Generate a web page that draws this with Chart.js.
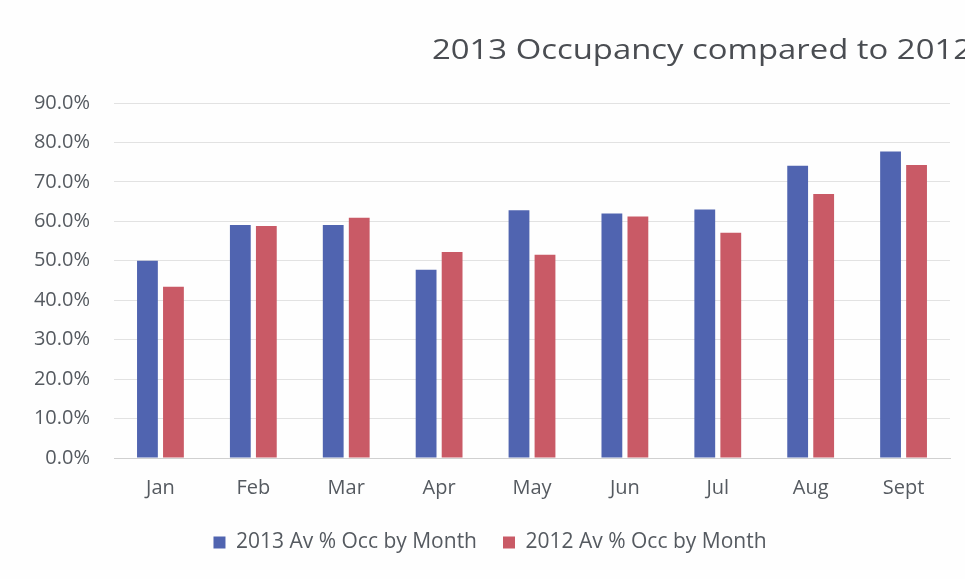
<!DOCTYPE html>
<html>
<head>
<meta charset="utf-8">
<script src="https://cdn.jsdelivr.net/npm/chart.js@4/dist/chart.umd.min.js"></script>
<style>
html,body{margin:0;padding:0;background:#fefefe;}
#wrap{position:relative;width:965px;height:579px;overflow:hidden;}
</style>
</head>
<body>
<div id="wrap"><canvas id="c" width="965" height="579"></canvas></div>
<script>
const chartTitle = "2013 Occupancy compared to 2012";
const categories = ["Jan","Feb","Mar","Apr","May","Jun","Jul","Aug","Sept"];
const series2013Label = "2013 Av % Occ by Month";
const series2012Label = "2012 Av % Occ by Month";
const occ2013 = [50.0, 59.1, 59.1, 47.7, 62.8, 62.0, 63.0, 74.1, 77.7];
const occ2012 = [43.4, 58.8, 60.9, 52.2, 51.5, 61.2, 57.1, 66.9, 74.3];
const yTicks = [0,10,20,30,40,50,60,70,80,90];

const FONT = "'Open Sans', 'Liberation Sans', sans-serif";
const TXT = "#555a60";

const titlePlugin = {
  id: 'offsetTitle',
  afterDraw(chart) {
    const ctx = chart.ctx;
    ctx.save();
    ctx.font = "28px " + FONT;
    ctx.fillStyle = "#4a4d52";
    ctx.textAlign = "left";
    ctx.textBaseline = "middle";
    const w = ctx.measureText(chartTitle).width;
    const sx = 540 / w;
    ctx.translate(432, 51);
    ctx.scale(sx, 1);
    ctx.fillText(chartTitle, 0, 0);
    ctx.restore();
  }
};

new Chart(document.getElementById('c'), {
  type: 'bar',
  data: {
    labels: categories,
    datasets: [
      { label: series2013Label, data: occ2013, backgroundColor: '#5064b0', borderWidth: 0,
        categoryPercentage: 0.56, barPercentage: 0.8 },
      { label: series2012Label, data: occ2012, backgroundColor: '#c95a66', borderWidth: 0,
        categoryPercentage: 0.56, barPercentage: 0.8 }
    ]
  },
  options: {
    responsive: false,
    animation: false,
    layout: { padding: { top: 103, left: 30, right: 15, bottom: 16 } },
    plugins: {
      title: { display: false },
      tooltip: { enabled: false },
      legend: {
        position: 'bottom',
        labels: {
          boxWidth: 12, boxHeight: 12, padding: 26,
          color: TXT,
          font: { family: FONT, size: 21 }
        }
      }
    },
    scales: {
      x: {
        afterFit(scale) { scale.height = 48; },
        grid: { display: false, drawTicks: false },
        border: { color: '#d0d0d0' },
        ticks: { color: TXT, font: { family: FONT, size: 20 }, padding: 18 }
      },
      y: {
        min: 0, max: 90,
        afterBuildTicks(scale) { scale.ticks = yTicks.map(v => ({ value: v })); },
        afterFit(scale) { scale.width = 84; },
        grid: { color: '#e2e2e2', drawTicks: false },
        border: { display: false },
        ticks: {
          color: TXT, font: { family: FONT, size: 20 }, padding: 24,
          callback: v => v.toFixed(1) + '%'
        }
      }
    }
  },
  plugins: [titlePlugin]
});
</script>
</body>
</html>
